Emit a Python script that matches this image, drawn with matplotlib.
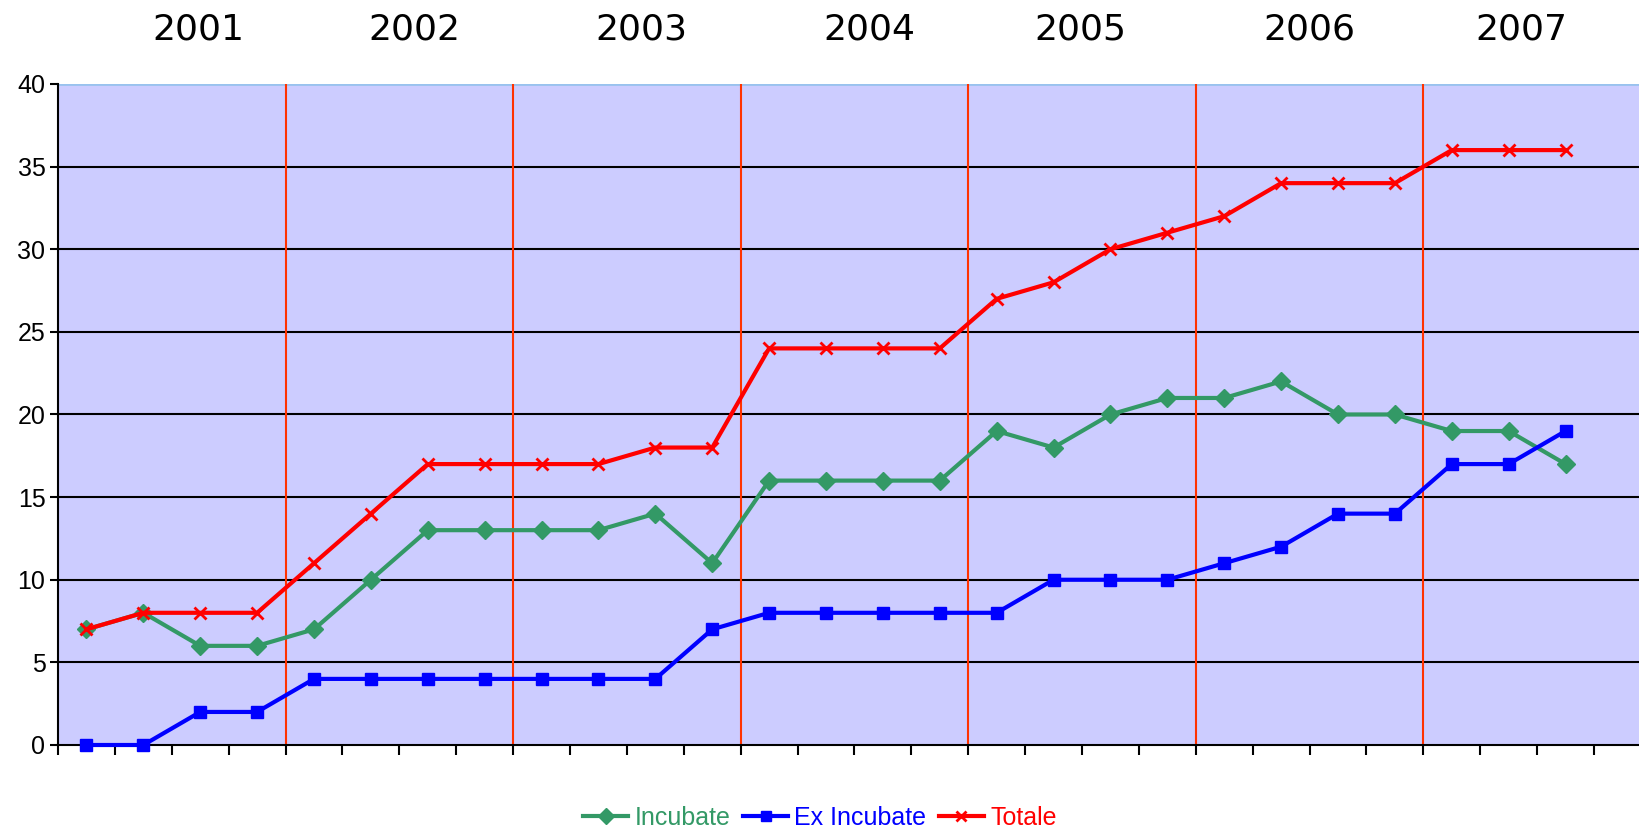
import numpy as np
import matplotlib.pyplot as plt
from matplotlib import transforms

# quarterly counts, 2001 Q1 .. 2007 Q3
incubate = [7, 8, 6, 6, 7, 10, 13, 13, 13, 13, 14, 11, 16, 16, 16, 16,
            19, 18, 20, 21, 21, 22, 20, 20, 19, 19, 17]
ex_incubate = [0, 0, 2, 2, 4, 4, 4, 4, 4, 4, 4, 7, 8, 8, 8, 8,
               8, 10, 10, 10, 11, 12, 14, 14, 17, 17, 19]
totale = [7, 8, 8, 8, 11, 14, 17, 17, 17, 17, 18, 18, 24, 24, 24, 24,
          27, 28, 30, 31, 32, 34, 34, 34, 36, 36, 36]
years = ['2001', '2002', '2003', '2004', '2005', '2006', '2007']
year_boundaries = [4, 8, 12, 16, 20, 24]

narrow = ['Liberation Sans Narrow', 'Liberation Sans', 'DejaVu Sans']

fig = plt.figure(figsize=(16.4, 8.32), dpi=100)
W, H = 1640, 832
ax = fig.add_axes([58 / W, 1 - 745 / H, 1 - 58 / W, (745 - 84) / H])
ax.set_facecolor('#CCCCFF')

n = len(totale)
x = np.arange(n) + 0.5
cat_w = (1594 - 58) / n
ax.set_xlim(0, (1640 - 58) / cat_w)
ax.set_ylim(0, 40)

# horizontal grid
for yv in range(5, 40, 5):
    ax.axhline(yv, color='black', lw=1.5, zorder=1)
ax.axhline(40, color='#99C2EE', lw=2, zorder=1)

# year separators
for b in year_boundaries:
    ax.axvline(b, color='#FF3300', lw=1.5, zorder=2)

ax.plot(x, incubate, color='#339966', lw=3, marker='D', ms=9, zorder=3,
        clip_on=False, label='Incubate')
ax.plot(x, ex_incubate, color='#0000FF', lw=3, marker='s', ms=9, zorder=4,
        clip_on=False, label='Ex Incubate')
ax.plot(x, totale, color='#FF0000', lw=3, marker='x', ms=8, mew=2, zorder=5,
        clip_on=False, label='Totale')

ax.set_xticks(np.arange(n + 1))
ax.set_xticklabels([])
ax.set_yticks(range(0, 41, 5))
ax.tick_params(axis='x', direction='out', length=7, width=1.5, color='black')
ax.tick_params(axis='y', direction='out', length=6, width=1.5, color='black', pad=3)
for lbl in ax.get_yticklabels():
    lbl.set_family(narrow)
    lbl.set_fontsize(18)

for s in ['top', 'right']:
    ax.spines[s].set_visible(False)
ax.spines['left'].set_linewidth(1.5)
ax.spines['bottom'].set_linewidth(1.5)

# year labels above the plot area
year_pos = [2.46, 6.27, 10.26, 14.26, 17.98, 21.99, 25.73]
trans = transforms.blended_transform_factory(ax.transData, fig.transFigure)
for yr, xp in zip(years, year_pos):
    ax.text(xp, 1 - 29 / H, yr, transform=trans,
            ha='center', va='center', fontsize=26, family='DejaVu Sans')

leg = fig.legend(loc='center', bbox_to_anchor=(0.5, 1 - 818 / H), ncol=3, frameon=False,
                 prop={'family': narrow, 'size': 18}, handlelength=1.8, handletextpad=0.25,
                 columnspacing=0.5, markerscale=0.85)
for txt, line in zip(leg.get_texts(), leg.get_lines()):
    txt.set_color(line.get_color())

fig.savefig('out.png', dpi=100)
